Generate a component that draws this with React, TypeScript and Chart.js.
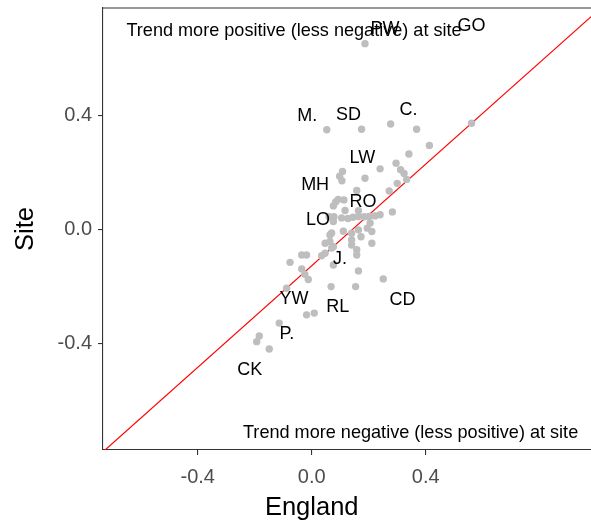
import { useEffect, useRef } from "react";
import { Chart, registerables } from "chart.js";

Chart.register(...registerables);

const FONT = "'Liberation Sans', Arial, Helvetica, sans-serif";

// Site trend vs England trend, one point per site
const englandTrend = [
  0.187, 0.053, 0.175, 0.277, 0.368, 0.561, 0.413, 0.341, 0.296, 0.240,
  0.312, 0.324, 0.333, 0.300, 0.187, 0.108, 0.098, 0.106, 0.272, 0.158,
  0.113, 0.093, 0.084, 0.076, 0.283, 0.117, 0.164, 0.061, 0.078, 0.105,
  0.127, 0.145, 0.164, 0.184, 0.201, 0.222, 0.240, 0.076, 0.205, 0.195,
  0.164, 0.140, 0.111, 0.070, 0.064, 0.211, 0.173, 0.211, 0.140, 0.140,
  0.158, 0.158, 0.047, 0.064, 0.076, 0.047, 0.070, 0.035, 0.076, -0.035,
  -0.018, -0.076, -0.035, -0.024, -0.012, -0.088, 0.164, 0.251, 0.068, 0.154,
  -0.018, 0.009, -0.114, -0.184, -0.193, -0.149,
];
const siteTrend = [
  0.653, 0.351, 0.353, 0.371, 0.353, 0.374, 0.296, 0.266, 0.234, 0.214,
  0.211, 0.198, 0.177, 0.163, 0.181, 0.205, 0.188, 0.172, 0.136, 0.138,
  0.105, 0.107, 0.098, 0.084, 0.063, 0.068, 0.067, 0.046, 0.046, 0.042,
  0.040, 0.044, 0.047, 0.046, 0.047, 0.049, 0.053, 0.029, 0.024, 0.006,
  0.000, -0.012, -0.005, -0.011, -0.018, -0.006, -0.024, -0.047, -0.035, -0.053,
  -0.070, -0.088, -0.047, -0.041, -0.059, -0.082, -0.064, -0.091, -0.123, -0.088,
  -0.088, -0.114, -0.137, -0.156, -0.174, -0.205, -0.144, -0.172, -0.199, -0.199,
  -0.298, -0.292, -0.327, -0.372, -0.392, -0.418,
];

// Site name labels and where they sit (data units)
const labelNames = ["PW", "GO", "M.", "SD", "C.", "LW", "MH", "RO", "LO", "J.", "YW", "RL", "CD", "P.", "CK"];
const labelEngland = [0.257, 0.561, -0.016, 0.129, 0.340, 0.178, 0.012, 0.180, 0.022, 0.099, -0.062, 0.091, 0.319, -0.087, -0.217];
const labelSite = [0.706, 0.714, 0.399, 0.402, 0.420, 0.251, 0.156, 0.097, 0.035, -0.103, -0.242, -0.270, -0.245, -0.365, -0.491];

// Reference line end points
const refLineEngland = [-0.76, 1.0];
const refLineSite = [-0.803, 0.765];

// Corner annotations
const noteTexts = ["Trend more positive (less negative) at site", "Trend more negative (less positive) at site"];
const noteEngland = [-0.062, 0.347];
const noteSite = [0.698, -0.713];

// Axes
const xTitle = "England";
const yTitle = "Site";
const xTicks = [-0.4, 0.0, 0.4];
const yTicks = [-0.4, 0.0, 0.4];
const xRange = [-0.7323, 0.98];
const yRange = [-0.772, 0.778];
const xTitleCentre = 0.0;

const zeroPad = (s: any) => {
  s.paddingTop = 0;
  s.paddingBottom = 0;
  s.paddingLeft = 0;
  s.paddingRight = 0;
};

const framePlugin = {
  id: "frameAndText",
  afterDatasetsDraw(chart: any) {
    const { ctx, chartArea, scales } = chart;
    const xs = scales.x;
    const ys = scales.y;
    ctx.save();
    // top border
    ctx.strokeStyle = "#333333";
    ctx.lineWidth = 1.1;
    ctx.beginPath();
    ctx.moveTo(chartArea.left, chartArea.top);
    ctx.lineTo(chartArea.right, chartArea.top);
    ctx.stroke();
    // labels
    ctx.fillStyle = "#000000";
    ctx.textAlign = "center";
    ctx.textBaseline = "middle";
    ctx.font = `18px ${FONT}`;
    labelNames.forEach((name, i) => {
      ctx.fillText(name, xs.getPixelForValue(labelEngland[i]), ys.getPixelForValue(labelSite[i]));
    });
    ctx.font = `18.1px ${FONT}`;
    noteTexts.forEach((t, i) => {
      ctx.fillText(t, xs.getPixelForValue(noteEngland[i]), ys.getPixelForValue(noteSite[i]));
    });
    // x-axis title
    ctx.font = `25.5px ${FONT}`;
    ctx.fillText(xTitle, xs.getPixelForValue(xTitleCentre), chartArea.bottom + 58);
    ctx.restore();
  },
};

export default function App() {
  const ref = useRef<HTMLCanvasElement | null>(null);
  useEffect(() => {
    document.documentElement.style.overflow = "hidden";
    document.body.style.margin = "0";
    const points = englandTrend.map((x, i) => ({ x, y: siteTrend[i] }));
    const line = refLineEngland.map((x, i) => ({ x, y: refLineSite[i] }));
    const chart = new Chart(ref.current!, {
      type: "scatter",
      data: {
        datasets: [
          {
            data: points,
            backgroundColor: "#BEBEBE",
            borderWidth: 0,
            pointRadius: 3.7,
            pointHoverRadius: 3.7,
          },
          {
            type: "line",
            data: line,
            borderColor: "#FF0000",
            borderWidth: 1.2,
            pointRadius: 0,
            fill: false,
            tension: 0,
          } as any,
        ],
      },
      options: {
        responsive: true,
        maintainAspectRatio: false,
        animation: false,
        devicePixelRatio: 1,
        layout: { autoPadding: false, padding: { top: 2, right: 0, bottom: 0, left: 0 } },
        plugins: { legend: { display: false }, tooltip: { enabled: false } },
        scales: {
          x: {
            type: "linear",
            min: xRange[0],
            max: xRange[1],
            afterBuildTicks: (s: any) => {
              s.ticks = xTicks.map((v) => ({ value: v }));
            },
            afterFit: (s: any) => {
              s.height = 72;
              zeroPad(s);
            },
            ticks: {
              callback: (v: any) => Number(v).toFixed(1),
              font: { size: 20, family: FONT },
              color: "#4D4D4D",
              padding: 10,
              maxRotation: 0,
              autoSkip: false,
            },
            grid: { drawOnChartArea: false, drawTicks: true, tickLength: 5, color: "#333333", lineWidth: 1.1 },
            border: { display: true, color: "#333333", width: 1.1 },
            title: { display: false },
          },
          y: {
            type: "linear",
            min: yRange[0],
            max: yRange[1],
            afterBuildTicks: (s: any) => {
              s.ticks = yTicks.map((v) => ({ value: v }));
            },
            afterFit: (s: any) => {
              s.width = 95;
              zeroPad(s);
            },
            ticks: {
              callback: (v: any) => Number(v).toFixed(1),
              font: { size: 20, family: FONT },
              color: "#4D4D4D",
              padding: 6,
              autoSkip: false,
            },
            grid: { drawOnChartArea: false, drawTicks: true, tickLength: 5, color: "#333333", lineWidth: 1.1 },
            border: { display: true, color: "#333333", width: 1.1 },
            title: {
              display: true,
              text: yTitle,
              font: { size: 25.5, family: FONT },
              color: "#000000",
              padding: { top: 3, bottom: 0 },
            },
          },
        },
      },
      plugins: [framePlugin],
    });
    return () => chart.destroy();
  }, []);
  return (
    <div style={{ position: "relative", marginLeft: 8, marginTop: 6, width: 583, height: 516 }}>
      <canvas ref={ref} />
    </div>
  );
}
